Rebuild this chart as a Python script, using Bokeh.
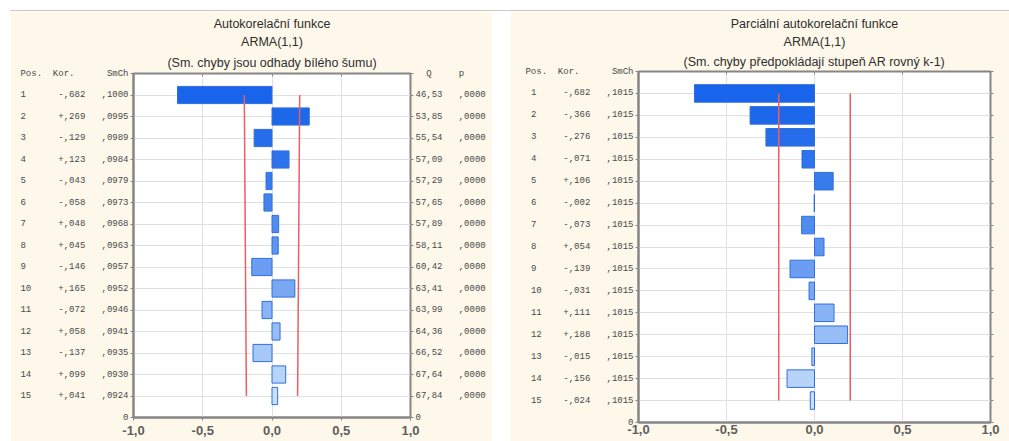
from bokeh.plotting import figure
from bokeh.models import (Range1d, FixedTicker, CustomJSTickFormatter, LinearAxis,
                          ColumnDataSource, Spacer, Title)
from bokeh.layouts import row, column
from bokeh.embed import file_html
from bokeh.resources import INLINE

# ---- data -------------------------------------------------------------
lags = list(range(1, 16))

acf_r = [-0.682, 0.269, -0.129, 0.123, -0.043, -0.058, 0.048, 0.045,
         -0.146, 0.165, -0.072, 0.058, -0.137, 0.099, 0.041]
acf_se = [0.1000, 0.0995, 0.0989, 0.0984, 0.0979, 0.0973, 0.0968, 0.0963,
          0.0957, 0.0952, 0.0946, 0.0941, 0.0935, 0.0930, 0.0924]
acf_q = [46.53, 53.85, 55.54, 57.09, 57.29, 57.65, 57.89, 58.11,
         60.42, 63.41, 63.99, 64.36, 66.52, 67.64, 67.84]
acf_p = [0.0000, 0.0000, 0.0000, 0.0000, 0.0000, 0.0000, 0.0000, 0.0000,
         0.0000, 0.0000, 0.0000, 0.0000, 0.0000, 0.0000, 0.0000]

pacf_r = [-0.682, -0.366, -0.276, -0.071, 0.106, -0.002, -0.073, 0.054,
          -0.139, -0.031, 0.111, 0.188, -0.015, -0.156, -0.024]
pacf_se = [0.1015, 0.1015, 0.1015, 0.1015, 0.1015, 0.1015, 0.1015, 0.1015,
           0.1015, 0.1015, 0.1015, 0.1015, 0.1015, 0.1015, 0.1015]

x_ticks = [-1.0, -0.5, 0.0, 0.5, 1.0]

acf_title = ["Autokorelační funkce", "ARMA(1,1)",
             "(Sm. chyby jsou odhady bílého šumu)"]
pacf_title = ["Parciální autokorelační funkce", "ARMA(1,1)",
              "(Sm. chyby předpokládají stupeň AR rovný k-1)"]

left_header = ["Pos.", "Kor.", "SmCh"]
right_header = ["Q", "p"]

# ---- style ------------------------------------------------------------
CREAM = "#fdf8ea"
TABLE_TEXT = "#4a4a4a"
TITLE_TEXT = "#2e2e2e"
MONO = "Liberation Mono"
SANS = "Liberation Sans"
FRAME = "#868686"
GRID = "#e0e0e0"
RED = "#ee5c64"
BAR_EDGE = "#2f6fdc"
NB = "\u00a0"      # non-breaking space keeps the table columns in place
N_ROWS = 16        # vertical extent of the frame in rows
FIG_H = 430


def row_colors(n):
    c0 = (24, 100, 234)
    c1 = (200, 224, 250)
    out = []
    for i in range(n):
        t = (i / (n - 1)) ** 1.35
        rgb = tuple(int(round(a + (b - a) * t)) for a, b in zip(c0, c1))
        out.append("#%02x%02x%02x" % rgb)
    return out


def fmt_r(v):
    sign = "+" if v >= 0 else "-"
    return "%s,%03d" % (sign, int(round(abs(v) * 1000)))


def fmt_se(v):
    return ",%04d" % int(round(v * 10000))


def fmt_q(v):
    return ("%.2f" % v).replace(".", ",")


def fmt_p(v):
    return ",%04d" % int(round(v * 10000))


def pad(s, w):
    s = str(s)
    return s + NB * max(0, w - len(s))


def style_row_axis(ax):
    ax.major_tick_line_color = FRAME
    ax.major_tick_out = 3
    ax.major_tick_in = 0
    ax.minor_tick_line_color = None
    ax.major_label_standoff = 2
    ax.major_label_text_font = MONO
    ax.major_label_text_font_size = "9px"
    ax.major_label_text_color = TABLE_TEXT


def make_panel(titles, r, se, width, borders, title_dx, title_gaps, pos_w,
               x_tick_out, x_label_gap, q=None, p=None):
    bl, br, bt, bb = borders
    fig = figure(width=width, height=FIG_H, x_range=Range1d(-1, 1),
                 y_range=Range1d(0, N_ROWS), output_backend="svg",
                 toolbar_location=None, min_border_left=bl,
                 min_border_right=br, min_border_top=bt, min_border_bottom=bb)
    fig.border_fill_color = CREAM
    fig.background_fill_color = "white"
    fig.outline_line_color = FRAME
    fig.outline_line_width = 2

    ypos = [N_ROWS - k for k in lags]
    src = ColumnDataSource(dict(
        y=ypos, r=r,
        lo=[-2 * s for s in se], hi=[2 * s for s in se],
        fill=row_colors(len(lags)),
    ))
    fig.hbar(y="y", left=0, right="r", height=0.8, fill_color="fill",
             line_color=BAR_EDGE, line_width=1, source=src)
    fig.line("lo", "y", source=src, line_color=RED, line_width=1.5)
    fig.line("hi", "y", source=src, line_color=RED, line_width=1.5)

    # grid
    fig.xgrid.ticker = FixedTicker(ticks=[-0.5, 0.0, 0.5])
    fig.ygrid.ticker = FixedTicker(ticks=list(range(1, N_ROWS)))
    fig.xgrid.grid_line_color = GRID
    fig.ygrid.grid_line_color = GRID

    # x axis
    xa = fig.xaxis[0]
    xa.ticker = FixedTicker(ticks=x_ticks)
    xa.formatter = CustomJSTickFormatter(
        code="return tick.toFixed(1).replace('.', ',');")
    xa.axis_line_color = FRAME
    xa.axis_line_width = 2
    xa.major_tick_line_color = FRAME
    xa.major_tick_out = x_tick_out
    xa.major_tick_in = 0
    xa.minor_tick_line_color = None
    xa.major_label_standoff = x_label_gap
    xa.major_label_text_font = SANS
    xa.major_label_text_font_size = "13px"
    xa.major_label_text_font_style = "bold"
    xa.major_label_text_color = "#5e5e5e"

    # left axis carries the table: lag, coefficient, standard error
    ya = fig.yaxis[0]
    ya.ticker = FixedTicker(ticks=list(range(0, N_ROWS + 1)))
    ya.axis_line_color = FRAME
    ya.axis_line_width = 2
    style_row_axis(ya)
    left_rows = {0: "0"}
    h = left_header
    left_rows[N_ROWS] = h[0] + NB * 2 + h[1] + NB * 6 + h[2]
    for k, y, rv, sv in zip(lags, ypos, r, se):
        left_rows[y] = pad(k, pos_w) + fmt_r(rv) + NB * 3 + fmt_se(sv)
    ya.major_label_overrides = left_rows

    # right axis: Q statistic and p-value (autocorrelation panel only)
    ra = LinearAxis(ticker=FixedTicker(ticks=list(range(0, N_ROWS + 1))),
                    axis_line_color=None)
    style_row_axis(ra)
    right_rows = {0: "0" if q is not None else "", N_ROWS: ""}
    for y in ypos:
        right_rows[y] = ""
    if q is not None:
        right_rows[N_ROWS] = NB * 2 + right_header[0] + NB * 5 + right_header[1]
        for y, qv, pv in zip(ypos, q, p):
            right_rows[y] = fmt_q(qv) + NB * 3 + fmt_p(pv)
    ra.major_label_overrides = right_rows
    fig.add_layout(ra, "right")

    # small ticks along the top edge of the frame
    ta = LinearAxis(ticker=FixedTicker(ticks=[-0.5, 0.0, 0.5]),
                    formatter=CustomJSTickFormatter(code="return '';"),
                    axis_line_color=None, major_tick_line_color=FRAME,
                    major_tick_in=3, major_tick_out=0,
                    minor_tick_line_color=None, major_label_standoff=0,
                    major_label_text_font_size="1px")
    fig.add_layout(ta, "above")

    # three-line heading, nearest line first
    for text, gap in zip(reversed(titles), title_gaps):
        fig.add_layout(Title(text=text, align="center", offset=title_dx,
                             standoff=gap, text_font=SANS,
                             text_font_size="12.5px", text_font_style="normal",
                             text_color=TITLE_TEXT), "above")
    return fig


left = make_panel(acf_title, acf_r, acf_se, 482, (123, 82, 62, 24), 29,
                  [7, 3, 2], 7, 3, 5, q=acf_q, p=acf_p)
right = make_panel(pacf_title, pacf_r, pacf_se, 499, (128, 19, 60, 19), -6,
                   [5, 3, 2], 6, 0, 2)

rule = Spacer(width=999, height=1, styles={"background-color": "#c8c8c8"})
layout = column(
    Spacer(width=1009, height=10),
    row(Spacer(width=10, height=1), rule),
    row(Spacer(width=10, height=FIG_H), column(left),
        Spacer(width=18, height=FIG_H), column(right)),
)

open("out.html", "w").write(file_html(layout, INLINE))
